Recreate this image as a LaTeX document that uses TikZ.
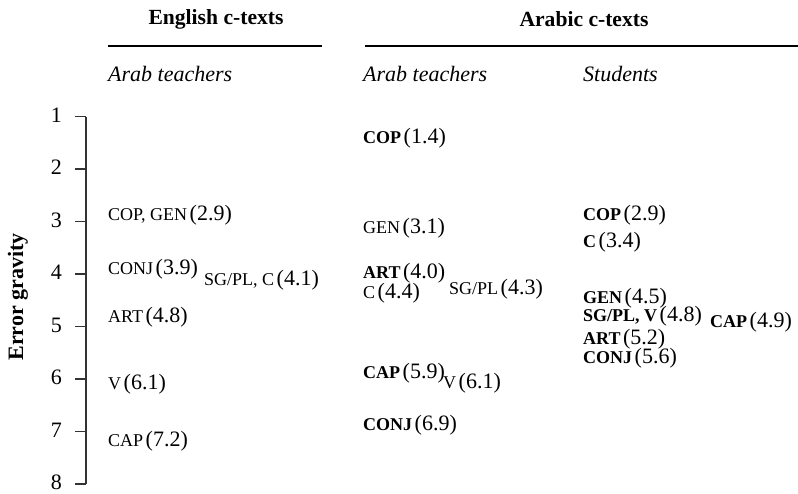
\documentclass[tikz,border=0pt]{standalone}
\usepackage{fontspec}
\setmainfont{Liberation Serif}
\newcommand\lbsz{\fontsize{18}{20}\selectfont}
\newcommand\nbsz{\fontsize{22}{24}\selectfont}
\newcommand\ent[2]{{\lbsz #1} {\nbsz(#2)}}
\newcommand\entb[2]{{\lbsz\bfseries #1} {\nbsz(#2)}}
\begin{document}
\begin{tikzpicture}[x=1pt,y=-1pt,
  lab/.style={anchor=west,inner sep=0pt},
  hdr/.style={inner sep=0pt,font=\fontsize{21.6}{24}\selectfont\bfseries},
  sub/.style={anchor=west,inner sep=0pt,font=\fontsize{22}{24}\selectfont\itshape},
  tnum/.style={anchor=east,inner sep=0pt,font=\fontsize{22}{24}\selectfont},
  rule/.style={line width=1.3pt},
  axis/.style={line width=1.4pt,black!80}]
\useasboundingbox (0,0) rectangle (798,493);
% headers
\node[hdr] (he) at (216,19) {English c-texts};
\node[hdr] (ha) at (584,19) {Arabic c-texts};
\coordinate (e1) at (108,46); \coordinate (e2) at (322,46);
\coordinate (a1) at (365,46); \coordinate (a2) at (798,46);
\draw[rule] (e1) -- (e2);
\draw[rule] (a1) -- (a2);
\node[sub] (s1) at (108,74) {Arab teachers};
\node[sub] (s2) at (363,74) {Arab teachers};
\node[sub] (s3) at (583,74) {Students};
% axis
\coordinate (top) at (86,116.5); \coordinate (bot) at (86,484);
\draw[axis] (top) -- (bot);
\foreach \k in {1,...,8}{
  \coordinate (t\k) at (86,{116.5+52.5*(\k-1)});
  \coordinate (u\k) at (75,{116.5+52.5*(\k-1)});
  \draw[axis] (u\k) -- (t\k);
  \node[tnum] (n\k) at (62,{115+52.5*(\k-1)}) {\k};
}
\node[rotate=90,inner sep=0pt,font=\fontsize{22}{24}\selectfont\bfseries] (yl) at (18,297) {Error gravity};
% English, Arab teachers
\node[lab] (e29) at (108,215) {\ent{COP, GEN}{2.9}};
\node[lab] (e39) at (108,269) {\ent{CONJ}{3.9}};
\node[lab] (e41) at (204,280) {\ent{SG/PL, C}{4.1}};
\node[lab] (e48) at (108,317) {\ent{ART}{4.8}};
\node[lab] (e61) at (108,384) {\ent{V}{6.1}};
\node[lab] (e72) at (108,441) {\ent{CAP}{7.2}};
% Arabic, Arab teachers
\node[lab] (a14) at (363,138) {\entb{COP}{1.4}};
\node[lab] (a31) at (363,228) {\ent{GEN}{3.1}};
\node[lab] (a40) at (363,273) {\entb{ART}{4.0}};
\node[lab] (a44) at (363,293) {\ent{C}{4.4}};
\node[lab] (a43) at (449,289) {\ent{SG/PL}{4.3}};
\node[lab] (a59) at (363,373) {\entb{CAP}{5.9}};
\node[lab] (a61) at (443,383) {\ent{V}{6.1}};
\node[lab] (a69) at (363,425) {\entb{CONJ}{6.9}};
% Arabic, Students
\node[lab] (s29) at (583,215) {\entb{COP}{2.9}};
\node[lab] (s34) at (583,242) {\entb{C}{3.4}};
\node[lab] (s45) at (583,298) {\entb{GEN}{4.5}};
\node[lab] (s48) at (583,316) {\entb{SG/PL, V}{4.8}};
\node[lab] (s49) at (710,322) {\entb{CAP}{4.9}};
\node[lab] (s52) at (583,339) {\entb{ART}{5.2}};
\node[lab] (s56) at (583,358) {\entb{CONJ}{5.6}};
\end{tikzpicture}
\end{document}
